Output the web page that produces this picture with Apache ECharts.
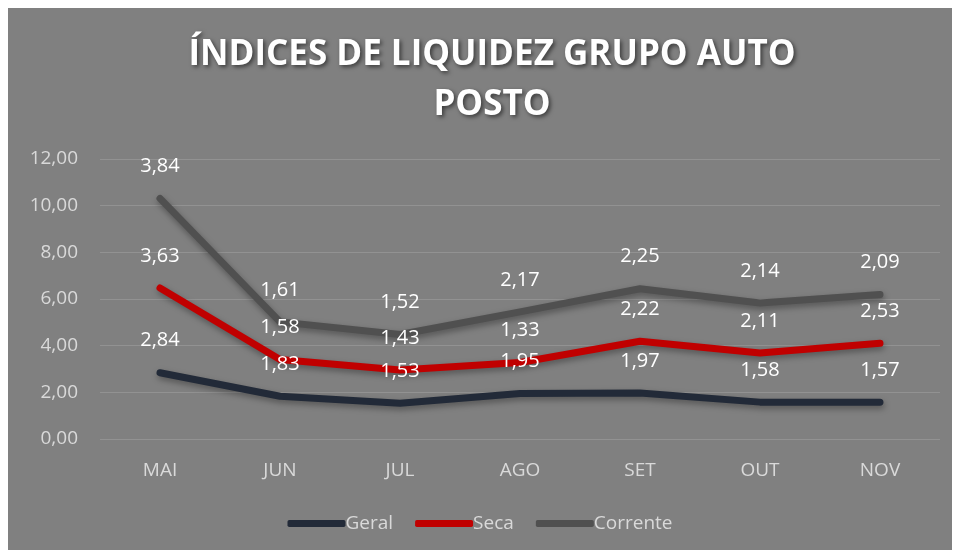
<!DOCTYPE html>
<html><head><meta charset="utf-8">
<script src="https://cdn.jsdelivr.net/npm/echarts@6/dist/echarts.min.js"></script>
<style>html,body{margin:0;padding:0;background:#fff}#c{width:960px;height:558px}</style>
</head><body><div id="c"></div>
<script>
var categories = ['MAI','JUN','JUL','AGO','SET','OUT','NOV'];
var geral = [2.84, 1.83, 1.53, 1.95, 1.97, 1.58, 1.57];
var seca = [3.63, 1.58, 1.43, 1.33, 2.22, 2.11, 2.53];
var corrente = [3.84, 1.61, 1.52, 2.17, 2.25, 2.14, 2.09];
var yTicks = {min: 0, max: 12, interval: 2};

function fmt(v){ return Number(v).toFixed(2).replace('.', ','); }
var chart = echarts.init(document.getElementById('c'));
var font = '"Open Sans", "Noto Sans", sans-serif';
function mk(name, data, color){
  return {
    name: name, type: 'line', stack: 'total', data: data,
    symbol: 'circle', symbolSize: 0.01, itemStyle: {color: color},
    lineStyle: {width: 7, color: color, cap: 'round', join: 'round',
      shadowColor: 'rgba(0,0,0,0.35)', shadowBlur: 6, shadowOffsetY: 3, shadowOffsetX: 1},
    label: {show: true, position: 'top', distance: 22, color: '#fff', fontSize: 20, fontFamily: font,
      formatter: function(p){ return fmt(p.value); }},
    emphasis: {disabled: true}, animation: false
  };
}
chart.setOption({
  backgroundColor: '#fff',
  animation: false,
  graphic: [{type: 'rect', shape: {x: 8, y: 8, width: 944, height: 542}, style: {fill: '#808080'}, z: -10}],
  title: {
    text: 'ÍNDICES DE LIQUIDEZ GRUPO AUTO\nPOSTO', left: 487, top: 25, textAlign: 'center',
    textStyle: {color: '#fff', fontSize: 35, fontWeight: 'bold', fontFamily: font, lineHeight: 50,
      textShadowColor: 'rgba(0,0,0,0.55)', textShadowBlur: 4, textShadowOffsetX: 2, textShadowOffsetY: 2}
  },
  legend: {
    bottom: 20, left: 'center', itemWidth: 58, itemHeight: 7, itemGap: 22,
    icon: 'roundRect',
    textStyle: {color: '#d9d9d9', fontSize: 19, fontFamily: font, padding: [0,0,0,-5]},
    data: ['Geral','Seca','Corrente']
  },
  grid: {left: 100, right: 20, top: 159, bottom: 119},
  xAxis: {
    type: 'category', data: categories, boundaryGap: true,
    axisLine: {show: false}, axisTick: {show: false},
    axisLabel: {color: '#d9d9d9', fontSize: 19, fontFamily: font, margin: 22}
  },
  yAxis: {
    type: 'value', min: yTicks.min, max: yTicks.max, interval: yTicks.interval,
    axisLine: {show: false}, axisTick: {show: false},
    splitLine: {lineStyle: {color: '#929292', width: 1}},
    axisLabel: {color: '#d9d9d9', fontSize: 19, fontFamily: font, margin: 22, formatter: fmt}
  },
  series: [mk('Geral', geral, '#222a38'), mk('Seca', seca, '#c00000'), mk('Corrente', corrente, '#505050')]
});
</script></body></html>
